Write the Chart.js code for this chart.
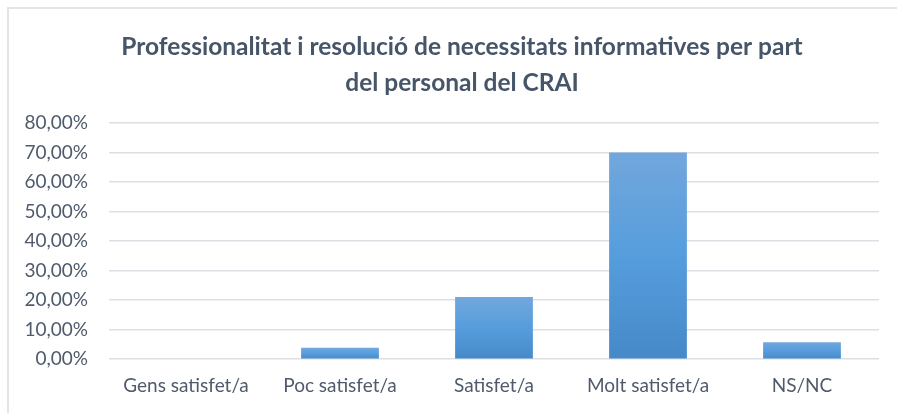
<!DOCTYPE html>
<html>
<head>
<meta charset="utf-8">
<script src="https://cdn.jsdelivr.net/npm/chart.js@4"></script>
<style>
    body { margin: 0; background: #fff; }
    #wrap { position: relative; width: 897px; height: 413px; overflow: hidden; }
    #frame { position: absolute; left: 7px; top: 7px; width: 900px; height: 420px; border: 2px solid #e1e4e8; box-sizing: border-box; pointer-events: none; }
    canvas { position: absolute; left: 0; top: 0; }
</style>
</head>
<body>
<div id="wrap">
    <canvas id="craiChart" width="897" height="413"></canvas>
    <div id="frame"></div>
</div>
<script>
const categories = ["Gens satisfet/a", "Poc satisfet/a", "Satisfet/a", "Molt satisfet/a", "NS/NC"];
const percentages = [0, 3.9, 21.05, 70, 5.7];
const titleLines = ["Professionalitat i resolució de necessitats informatives per part", "del personal del CRAI"];

const textColor = "#4f5b6c";

function barGradient(context) {
    const chart = context.chart;
    const { chartArea, scales } = chart;
    if (!chartArea) return "#5b9bd5";
    const v = context.raw || 0;
    const top = scales.y.getPixelForValue(v);
    const base = scales.y.getPixelForValue(0);
    if (base - top < 1) return "#5b9bd5";
    const g = chart.ctx.createLinearGradient(0, top, 0, base);
    g.addColorStop(0, "#72a7dc");
    g.addColorStop(0.5, "#569ddd");
    g.addColorStop(1, "#4689c8");
    return g;
}

// title sits a bit right of the canvas centre, like the original
const titleText = {
    id: "titleText",
    afterDraw(chart) {
        const { ctx } = chart;
        ctx.save();
        ctx.font = "bold 24.5px Lato";
        ctx.fillStyle = "#475569";
        ctx.textAlign = "center";
        ctx.textBaseline = "middle";
        ctx.fillText(titleLines[0], 462, 47);
        ctx.fillText(titleLines[1], 462, 83);
        ctx.restore();
    }
};

const config = {
    type: "bar",
    data: {
        labels: categories,
        datasets: [
            {
                data: percentages,
                backgroundColor: barGradient,
                borderWidth: 0,
                categoryPercentage: 1,
                barPercentage: 0.505
            }
        ]
    },
    options: {
        responsive: false,
        animation: false,
        layout: { padding: { left: 0, right: 18, top: 123, bottom: 1 } },
        plugins: {
            legend: { display: false },
            tooltip: { enabled: false },
            title: { display: false }
        },
        scales: {
            x: {
                grid: { display: false, drawTicks: false },
                border: { display: false },
                ticks: {
                    color: textColor,
                    font: { family: "Lato", size: 19, lineHeight: 1.2 },
                    padding: 15,
                    maxRotation: 0
                }
            },
            y: {
                min: 0,
                max: 80,
                afterFit(scale) { scale.width = 109; },
                grid: { color: "#dcdfe4", lineWidth: 1.5, drawTicks: false },
                border: { display: false },
                ticks: {
                    stepSize: 10,
                    color: textColor,
                    font: { family: "Lato", size: 19 },
                    padding: 21,
                    callback: v => v.toFixed(2).replace(".", ",") + "%"
                }
            }
        }
    },
    plugins: [titleText]
};

new Chart(document.getElementById("craiChart"), config);
</script>
</body>
</html>
